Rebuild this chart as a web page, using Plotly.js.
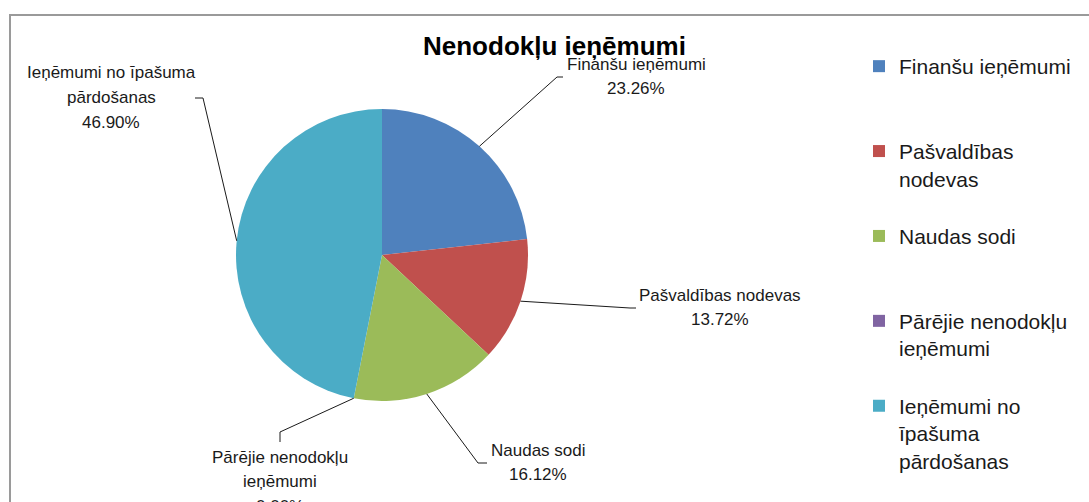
<!DOCTYPE html>
<html>
<head>
<meta charset="utf-8">
<script src="https://cdn.plot.ly/plotly-3.0.1.min.js"></script>
<style>html,body{margin:0;padding:0;background:#fff;}#chart{width:1089px;height:502px;}</style>
</head>
<body>
<div id="chart"></div>
<script>
// ---- data ----
const chartTitle = "Nenodokļu ieņēmumi";
const categories = ["Finanšu ieņēmumi", "Pašvaldības nodevas", "Naudas sodi", "Pārējie nenodokļu ieņēmumi", "Ieņēmumi no īpašuma pārdošanas"];
const values = [23.26, 13.72, 16.12, 0.00, 46.90];
const labelLines = [["Finanšu ieņēmumi"], ["Pašvaldības nodevas"], ["Naudas sodi"], ["Pārējie nenodokļu", "ieņēmumi"], ["Ieņēmumi no īpašuma", "pārdošanas"]];
const legendLines = [["Finanšu ieņēmumi"], ["Pašvaldības", "nodevas"], ["Naudas sodi"], ["Pārējie nenodokļu", "ieņēmumi"], ["Ieņēmumi no", "īpašuma", "pārdošanas"]];
const colors = ["#4F81BD", "#C0504D", "#9BBB59", "#8064A2", "#4BACC6"];

// ---- layout constants (pixels) ----
const W = 1089, H = 502;
const cx = 382, cy = 255, R = 146;
const labelPos = [[636, 64], [720, 295], [538, 450], [280, 457], [111, 73]];
const lineStep = 24.5;
const elbows = [[[557, 77], [563, 77]], [[630, 308], [636, 308]], [[478, 463], [487, 463]], [[280, 432], [280, 442]], [[203, 98], [195, 98]]];

const px = x => x / W;
const py = y => 1 - y / H;

const total = values.reduce((a, b) => a + b, 0);
const legendLabels = legendLines.map(l => {
  const lines = l.slice();
  while (lines.length < 3) lines.push("\u00a0");
  return lines.join("<br>");
});

const annotations = [];
const shapes = [];
let cum = 0;
values.forEach((v, i) => {
  const mid = (cum + v / 2) / total * 2 * Math.PI;
  cum += v;
  const ex = cx + R * Math.sin(mid), ey = cy - R * Math.cos(mid);
  const pct = (v / total * 100).toFixed(2) + "%";
  const lines = labelLines[i].concat([pct]);
  lines.forEach((t, k) => {
    annotations.push({
      xref: "paper", yref: "paper", x: px(labelPos[i][0]), y: py(labelPos[i][1] + k * lineStep),
      xanchor: "center", yanchor: "middle", showarrow: false, text: t,
      font: {family: "Liberation Sans, Arial, sans-serif", size: 17, color: "#1a1a1a"}
    });
  });
  const e = elbows[i];
  shapes.push({
    type: "path", xref: "paper", yref: "paper",
    path: `M ${px(ex)} ${py(ey)} L ${px(e[0][0])} ${py(e[0][1])} L ${px(e[1][0])} ${py(e[1][1])}`,
    line: {color: "#1a1a1a", width: 1}
  });
});

annotations.push({
  xref: "paper", yref: "paper", x: px(554), y: py(46), xanchor: "center", yanchor: "middle",
  showarrow: false, text: "<b>" + chartTitle + "</b>",
  font: {family: "Liberation Sans, Arial, sans-serif", size: 26, color: "#000"}
});

shapes.push({
  type: "rect", xref: "paper", yref: "paper", x0: px(10), y0: py(15), x1: px(1100), y1: py(520),
  line: {color: "#9a9a9a", width: 2}, fillcolor: "rgba(0,0,0,0)"
});

const trace = {
  type: "pie",
  labels: legendLabels,
  values: values,
  sort: false,
  direction: "clockwise",
  rotation: 0,
  textinfo: "none",
  hoverinfo: "none",
  marker: {colors: colors, line: {width: 0}},
  domain: {x: [px(cx - R), px(cx + R)], y: [py(cy + R), py(cy - R)]}
};

const layout = {
  width: W, height: H,
  margin: {l: 0, r: 0, t: 0, b: 0},
  paper_bgcolor: "#fff",
  showlegend: true,
  legend: {
    x: px(859), xanchor: "left", y: py(46), yanchor: "top",
    font: {family: "Liberation Sans, Arial, sans-serif", size: 21, color: "#1a1a1a"},
    valign: "top", itemclick: false, itemdoubleclick: false, bgcolor: "rgba(0,0,0,0)"
  },
  annotations: annotations,
  shapes: shapes
};

Plotly.newPlot("chart", [trace], layout, {staticPlot: true, displayModeBar: false});
</script>
</body>
</html>
